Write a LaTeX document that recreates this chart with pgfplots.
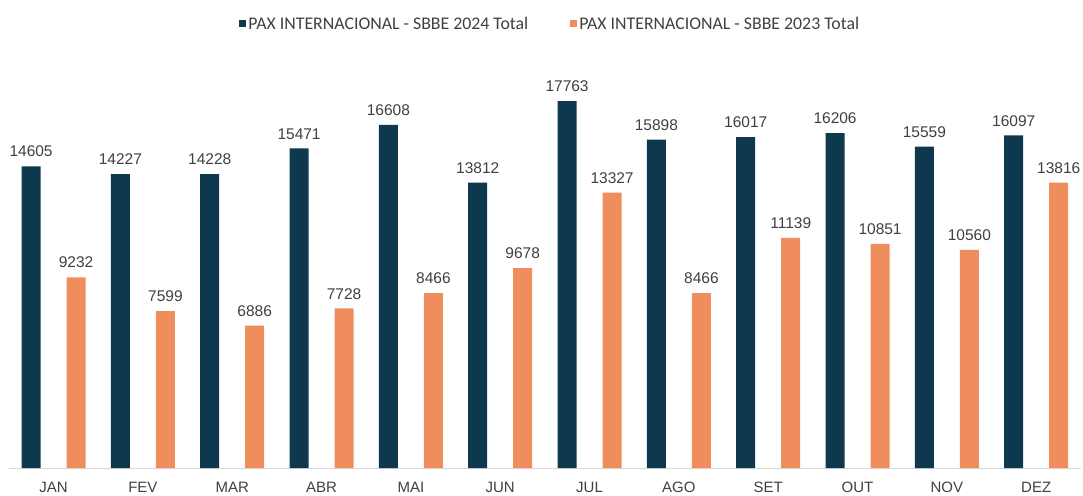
\documentclass[border=0pt]{standalone}
\usepackage{pgfplots}
\pgfplotsset{compat=1.18}
\usepackage{fontspec}
\setmainfont{Liberation Sans}
\newfontfamily\legfont{Carlito}
\definecolor{navy}{HTML}{0E384E}
\definecolor{orng}{HTML}{EF8D5D}
\definecolor{txt}{HTML}{404040}
\definecolor{axgray}{HTML}{D9D9D9}
\begin{document}
\begin{tikzpicture}[x=1pt,y=1pt]
\useasboundingbox (-8.9,-27) rectangle (1074.1,468);
\begin{axis}[
  at={(0,0)}, anchor=south west,
  scale only axis, width=1072pt, height=408pt,
  xmin=-0.5, xmax=11.5, ymin=0, ymax=19750,
  ybar, bar width=19pt,
  axis y line=none,
  axis x line*=bottom,
  x axis line style={draw=axgray, line width=1pt, -},
  xtick=data,
  xticklabels={JAN,FEV,MAR,ABR,MAI,JUN,JUL,AGO,SET,OUT,NOV,DEZ},
  major tick length=0pt,
  xticklabel style={font=\fontsize{15}{18}\selectfont, text=txt, anchor=center, yshift=-19.5pt},
  nodes near coords,
  every node near coord/.append style={font=\fontsize{15.5}{18}\selectfont, text=txt, inner sep=0pt, anchor=south, yshift=9pt},
  point meta=explicit symbolic,
  legend columns=2,
  legend style={at={(0.505,1)}, anchor=center, yshift=36pt, draw=none, fill=none,
    font=\legfont\fontsize{17.8}{20}\selectfont, text=txt,
    /tikz/every even column/.append style={column sep=40pt}},
  legend image code/.code={\fill[#1] (0pt,-3.5pt) rectangle (7pt,3.5pt);},
]
\addplot[fill=navy, draw=none, bar shift=-22.5pt] coordinates {
(0,14605) [14605] (1,14227) [14227] (2,14228) [14228] (3,15471) [15471]
(4,16608) [16608] (5,13812) [13812] (6,17763) [17763] (7,15898) [15898]
(8,16017) [16017] (9,16206) [16206] (10,15559) [15559] (11,16097) [16097]};
\addplot[fill=orng, draw=none, bar shift=22.5pt] coordinates {
(0,9232) [9232] (1,7599) [7599] (2,6886) [6886] (3,7728) [7728]
(4,8466) [8466] (5,9678) [9678] (6,13327) [13327] (7,8466) [8466]
(8,11139) [11139] (9,10851) [10851] (10,10560) [10560] (11,13816) [13816]};
\legend{PAX INTERNACIONAL - SBBE 2024 Total, PAX INTERNACIONAL - SBBE 2023 Total}
\end{axis}
\end{tikzpicture}
\end{document}
